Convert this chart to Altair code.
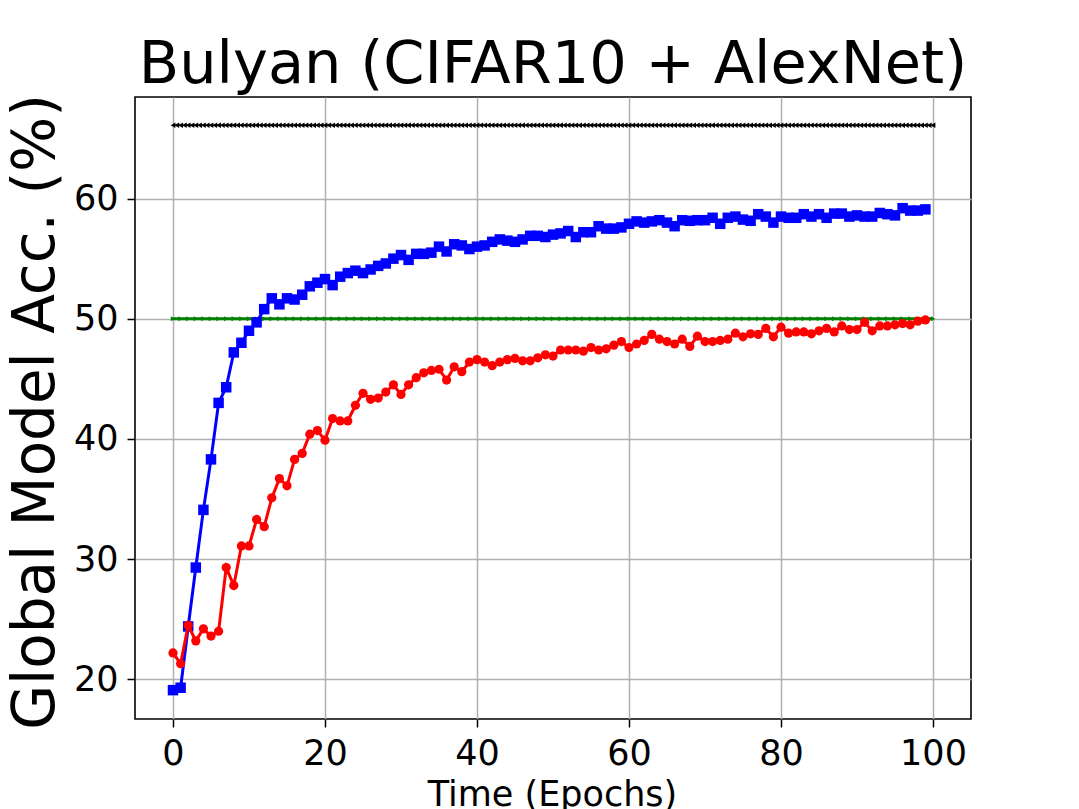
import altair as alt
import pandas as pd

# ---- data ----
epochs = list(range(100))

blue_acc = [
    19.1, 19.3, 24.4, 29.3, 34.1, 38.3, 43.0, 44.3, 47.2, 48.0,
    49.0, 49.7, 50.8, 51.7, 51.2, 51.7, 51.6, 52.0, 52.7, 53.0,
    53.3, 52.8, 53.5, 53.8, 54.0, 53.8, 54.1, 54.4, 54.6, 55.0,
    55.3, 54.9, 55.4, 55.4, 55.5, 56.0, 55.6, 56.2, 56.1, 55.8,
    56.0, 56.1, 56.4, 56.6, 56.5, 56.4, 56.6, 56.9, 56.9, 56.8,
    57.0, 57.1, 57.3, 56.8, 57.2, 57.2, 57.7, 57.5, 57.5, 57.6,
    57.9, 58.1, 58.0, 58.1, 58.2, 58.0, 57.7, 58.2, 58.15, 58.2,
    58.2, 58.4, 57.9, 58.4, 58.5, 58.25, 58.15, 58.7, 58.5, 58.0,
    58.5, 58.4, 58.4, 58.7, 58.5, 58.7, 58.4, 58.75, 58.75, 58.5,
    58.6, 58.5, 58.5, 58.8, 58.7, 58.6, 59.2, 59.0, 59.0, 59.1,
]

red_acc = [
    22.2, 21.3, 24.5, 23.2, 24.2, 23.6, 24.0, 29.3, 27.8, 31.1,
    31.1, 33.3, 32.7, 35.1, 36.7, 36.1, 38.3, 38.8, 40.4, 40.7,
    39.9, 41.7, 41.5, 41.5, 42.8, 43.8, 43.3, 43.4, 43.9, 44.5,
    43.7, 44.5, 45.1, 45.5, 45.7, 45.8, 44.9, 46.0, 45.6, 46.4,
    46.6, 46.4, 46.1, 46.4, 46.6, 46.7, 46.5, 46.5, 46.75, 47.0,
    46.9, 47.4, 47.4, 47.4, 47.3, 47.6, 47.4, 47.5, 47.8, 48.1,
    47.6, 47.9, 48.2, 48.7, 48.3, 48.1, 47.9, 48.3, 47.7, 48.55,
    48.1, 48.1, 48.2, 48.3, 48.8, 48.5, 48.75, 48.7, 49.2, 48.5,
    49.3, 48.8, 48.9, 48.9, 48.75, 49.0, 49.2, 48.9, 49.4, 49.1,
    49.1, 49.7, 49.0, 49.4, 49.4, 49.5, 49.6, 49.5, 49.8, 49.9,
]

green_epochs = list(range(101))
green_level = 50.0

black_epochs = [i * 0.5 for i in range(201)]
black_level = 66.1

x_ticks = [0, 20, 40, 60, 80, 100]
y_ticks = [20, 30, 40, 50, 60]

title_text = "Bulyan (CIFAR10 + AlexNet)"
x_title = "Time (Epochs)"
y_title = "Global Model Acc. (%)"

# ---- tables ----
df_blue = pd.DataFrame({"epoch": epochs, "acc": blue_acc})
df_red = pd.DataFrame({"epoch": epochs, "acc": red_acc})
df_green = pd.DataFrame({"epoch": green_epochs, "acc": [green_level] * len(green_epochs)})
df_black = pd.DataFrame({"epoch": black_epochs, "acc": [black_level] * len(black_epochs)})

FONT = "DejaVu Sans"

x_enc = alt.X(
    "epoch:Q",
    scale=alt.Scale(domain=[-5, 105], nice=False, zero=False),
    axis=alt.Axis(
        values=x_ticks, title=x_title, format="d",
        titleX=417, titleY=86.5, titleBaseline="alphabetic", titleAlign="center",
        titleFontSize=35,
    ),
)
y_enc = alt.Y(
    "acc:Q",
    scale=alt.Scale(domain=[16.7, 68.45], nice=False, zero=False),
    axis=alt.Axis(
        values=y_ticks, title=y_title, format="d",
        titleX=-82, titleY=314.5, titleBaseline="alphabetic", titleAlign="center",
        titleAngle=270, titleFontSize=58,
    ),
)


def series(df, color, shape, size, width):
    base = alt.Chart(df).encode(x=x_enc, y=y_enc)
    line = base.mark_line(color=color, strokeWidth=width)
    pts = base.mark_point(shape=shape, size=size, filled=True, color=color, opacity=1)
    return line + pts


chart = alt.layer(
    series(df_green, "#008000", "triangle-right", 26, 2.8),
    series(df_black, "#000000", "triangle-left", 30, 1.5),
    series(df_blue, "#0000ff", "square", 110, 3.0),
    series(df_red, "#ff0000", "circle", 85, 3.0),
).properties(
    width=836,
    height=622,
    padding={"left": 127, "top": 89, "right": 100, "bottom": 90},
    autosize=alt.AutoSizeParams(type="none"),
    title=alt.TitleParams(
        title_text, fontSize=59, font=FONT, fontWeight="normal",
        baseline="alphabetic", offset=12, dy=60, anchor="middle", color="#000000",
    ),
).configure(
    font=FONT,
).configure_view(
    stroke="#000000", strokeWidth=1.6, fill="white",
).configure_axis(
    labelFont=FONT, labelFontSize=35, labelColor="#000000", labelPadding=9,
    tickColor="#000000", tickSize=8, tickWidth=1.5,
    domain=False,
    grid=True, gridColor="#b0b0b0", gridWidth=1.5,
    titleFont=FONT, titleFontWeight="normal", titleColor="#000000",
    labelFlush=False, labelOverlap=False,
)

chart.save("out.html", embed_options={"renderer": "svg", "actions": False})
